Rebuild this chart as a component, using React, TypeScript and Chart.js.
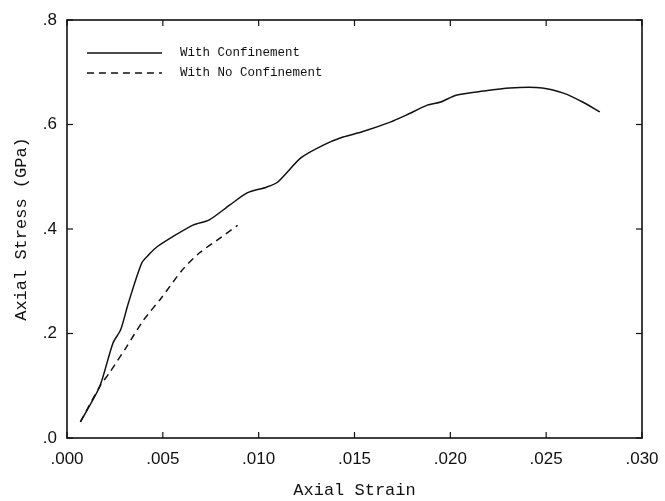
import React, { useEffect, useRef } from "react";
import { Chart, registerables } from "chart.js";

Chart.register(...registerables);

// Axial strain / stress (GPa)
const confStrain = [0.0007, 0.0017, 0.0024, 0.0028, 0.0032, 0.0039, 0.0043, 0.0047, 0.0055, 0.0066, 0.0074, 0.0085, 0.0094, 0.0104, 0.0110, 0.0122, 0.0134, 0.0144, 0.0154, 0.0169, 0.0177, 0.0188, 0.0195, 0.0203, 0.0217, 0.0231, 0.0248, 0.0259, 0.0269, 0.0278];
const confStress = [0.031, 0.098, 0.182, 0.207, 0.258, 0.335, 0.352, 0.366, 0.385, 0.408, 0.417, 0.446, 0.469, 0.480, 0.490, 0.536, 0.561, 0.576, 0.586, 0.605, 0.618, 0.637, 0.643, 0.656, 0.664, 0.670, 0.670, 0.660, 0.643, 0.624];

const noConfStrain = [0.0007, 0.0017, 0.0022, 0.0031, 0.0040, 0.0049, 0.0060, 0.0069, 0.0080, 0.0089];
const noConfStress = [0.031, 0.098, 0.124, 0.174, 0.226, 0.267, 0.321, 0.354, 0.383, 0.407];

const seriesLabels = ["With Confinement", "With No Confinement"];
const xTitle = "Axial Strain";
const yTitle = "Axial Stress (GPa)";

const INK = "#111111";
const MONO = "'Liberation Mono', 'DejaVu Sans Mono', monospace";
const SANS = "'Liberation Sans', Arial, sans-serif";

const toPoints = (xs: number[], ys: number[]) => xs.map((x, i) => ({ x, y: ys[i] }));

const framePlugin = {
  id: "frame",
  afterDatasetsDraw(chart: any) {
    const { ctx, chartArea, scales } = chart;
    const { left, right, top, bottom } = chartArea;
    const xs = scales.x;
    const ys = scales.y;
    ctx.save();
    ctx.strokeStyle = INK;
    ctx.lineWidth = 1.6;
    ctx.setLineDash([]);
    ctx.strokeRect(left, top, right - left, bottom - top);
    ctx.lineWidth = 1.2;
    const seg = (x1: number, y1: number, x2: number, y2: number) => {
      ctx.beginPath();
      ctx.moveTo(x1, y1);
      ctx.lineTo(x2, y2);
      ctx.stroke();
    };
    xs.ticks.forEach((t: any) => {
      const px = xs.getPixelForValue(t.value);
      seg(px, bottom, px, bottom - 6);
      seg(px, top, px, top + 6);
    });
    ys.ticks.forEach((t: any) => {
      const py = ys.getPixelForValue(t.value);
      seg(left, py, left + 6, py);
      seg(right, py, right - 6, py);
    });

    // legend inside the plot
    const lx1 = left + 20;
    const lx2 = left + 95;
    const tx = left + 113;
    const rows = [top + 33, top + 53];
    ctx.font = `12.5px ${MONO}`;
    ctx.fillStyle = INK;
    ctx.textBaseline = "middle";
    ctx.textAlign = "left";
    chart.data.datasets.forEach((ds: any, i: number) => {
      ctx.lineWidth = 1.4;
      ctx.setLineDash(ds.borderDash || []);
      seg(lx1, rows[i], lx2, rows[i]);
      ctx.setLineDash([]);
      ctx.fillText(ds.label, tx, rows[i]);
    });
    ctx.restore();
  },
};

export default function App() {
  const ref = useRef<HTMLCanvasElement>(null);

  useEffect(() => {
    if (!ref.current) return;
    const chart = new Chart(ref.current, {
      type: "line",
      data: {
        datasets: [
          {
            label: seriesLabels[0],
            data: toPoints(confStrain, confStress),
            borderColor: INK,
            borderWidth: 1.5,
            pointRadius: 0,
            tension: 0.25,
            fill: false,
          },
          {
            label: seriesLabels[1],
            data: toPoints(noConfStrain, noConfStress),
            borderColor: INK,
            borderWidth: 1.5,
            borderDash: [7, 5],
            pointRadius: 0,
            tension: 0.25,
            fill: false,
          },
        ],
      },
      options: {
        animation: false,
        responsive: true,
        maintainAspectRatio: false,
        layout: { padding: { left: 4, top: 20, right: 23, bottom: 0 } },
        plugins: {
          legend: { display: false },
          tooltip: { enabled: false },
        },
        scales: {
          x: {
            type: "linear",
            min: 0,
            max: 0.03,
            grid: { display: false, drawTicks: false },
            border: { display: false },
            ticks: {
              stepSize: 0.005,
              color: INK,
              padding: 11,
              maxRotation: 0,
              font: { family: SANS, size: 17 },
              callback: (v: any) => Number(v).toFixed(3).replace(/^0/, ""),
            },
            title: {
              display: true,
              text: xTitle,
              color: INK,
              font: { family: MONO, size: 17 },
              padding: { top: 1, bottom: 0 },
            },
            afterFit: (s: any) => {
              s.height = 63;
              s.paddingRight = 0;
              s.paddingLeft = 0;
            },
          },
          y: {
            type: "linear",
            min: 0,
            max: 0.8,
            grid: { display: false, drawTicks: false },
            border: { display: false },
            ticks: {
              stepSize: 0.2,
              color: INK,
              padding: 10,
              font: { family: SANS, size: 17 },
              callback: (v: any) => Number(v).toFixed(1).replace(/^0/, ""),
            },
            title: {
              display: true,
              text: yTitle,
              color: INK,
              font: { family: MONO, size: 17 },
              padding: { top: 7, bottom: 0 },
            },
            afterFit: (s: any) => {
              s.width = 63;
              s.paddingTop = 0;
              s.paddingBottom = 0;
            },
          },
        },
      },
      plugins: [framePlugin],
    });
    return () => chart.destroy();
  }, []);

  return (
    <div style={{ position: "fixed", left: 0, top: 0, width: 665, height: 501, background: "#fff" }}>
      <canvas ref={ref} />
    </div>
  );
}
